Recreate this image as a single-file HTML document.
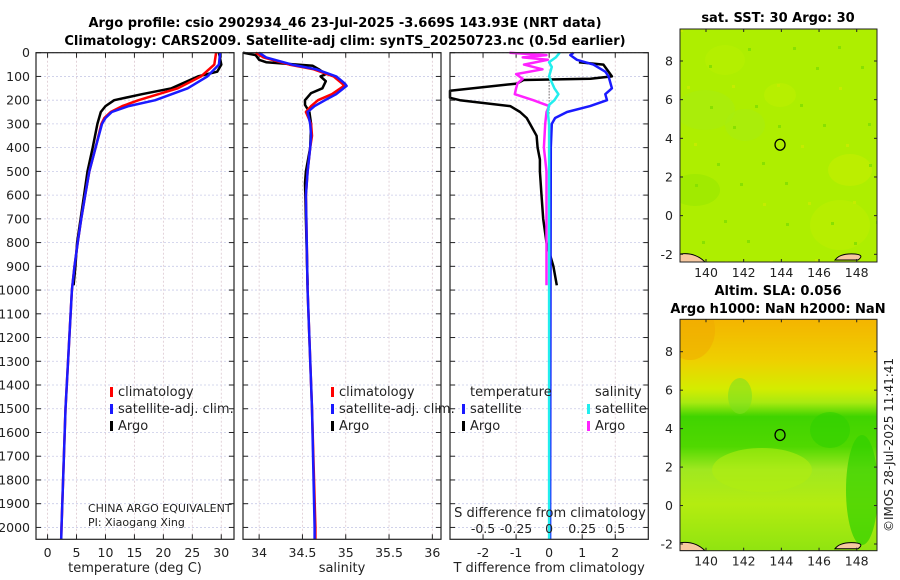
<!DOCTYPE html>
<html><head><meta charset="utf-8">
<style>
body{margin:0;background:#fff;}
svg{display:block;font-family:"DejaVu Sans","Liberation Sans",sans-serif;}
</style></head>
<body>
<svg id="fig" width="900" height="580" viewBox="0 0 900 580" xmlns="http://www.w3.org/2000/svg">
<text x="345" y="27" text-anchor="middle" font-size="13" font-weight="bold">Argo profile: csio 2902934_46 23-Jul-2025 -3.669S 143.93E (NRT data)</text>
<text x="345" y="45" text-anchor="middle" font-size="13" font-weight="bold">Climatology: CARS2009. Satellite-adj clim: synTS_20250723.nc (0.5d earlier)</text>
<g id="plots"></g>
<g id="maps"></g>
<text transform="translate(893,445) rotate(-90)" text-anchor="middle" font-size="12" fill="#222">©IMOS 28-Jul-2025 11:41:41</text>
</svg>
<script>
// ---- data ----
const tDepth = [0,50,100,150,200,225,250,275,300,400,500,600,700,800,900,1000,1500,2000,2050];
const tClim  = [29.1,28.8,26.5,22.5,15.7,12.9,10.9,9.8,9.3,8.3,7.2,6.5,5.8,5.2,4.65,4.2,3.1,2.4,2.35];
const tSat   = [29.8,29.6,27.6,24.2,18.6,14.0,11.1,10.0,9.4,8.3,7.2,6.5,5.8,5.2,4.65,4.2,3.1,2.4,2.35];
const argoTDepth = [0,50,80,100,150,175,200,225,250,300,400,500,600,700,800,900,980];
const argoT  = [29.6,30.0,29.3,26.0,21.4,16.3,11.5,10.0,9.2,8.6,7.8,6.9,6.3,5.7,5.1,4.8,4.5];
const sDepth = [0,20,50,70,100,130,140,175,200,225,250,300,350,400,500,600,1000,1500,2000,2050];
const sClim  = [33.96,34.05,34.35,34.63,34.86,34.96,34.98,34.84,34.68,34.6,34.54,34.6,34.61,34.59,34.56,34.54,34.56,34.61,34.65,34.65];
const sSat   = [34.0,34.08,34.38,34.66,34.89,34.99,35.01,34.89,34.76,34.64,34.56,34.59,34.6,34.59,34.56,34.54,34.56,34.61,34.64,34.64];
const argoSDepth = [0,10,30,40,55,70,90,100,120,150,170,200,220,250,300,400,500,550,700,980];
const argoS  = [33.8,33.96,34.0,34.08,34.62,34.69,34.77,34.71,34.77,34.73,34.6,34.53,34.53,34.58,34.6,34.59,34.54,34.53,34.54,34.56];
const dTDepth = [0,10,30,50,80,100,150,175,200,225,250,275,300,400,1000,2000,2050];
const dTSat   = [0.74,0.64,0.84,1.34,1.7,1.8,1.9,1.7,1.75,1.24,0.54,0.18,0.08,0.05,0.04,0.03,0.03];
const dTArgoDepth = [40,50,80,100,110,115,130,160,190,200,225,250,275,300,350,400,450,500,600,700,800,900,980];
const dTArgo = [0.9,1.64,1.8,1.9,1.25,-0.78,-0.98,-3.1,-3.1,-2.7,-1.18,-0.88,-0.68,-0.58,-0.38,-0.35,-0.28,-0.28,-0.23,-0.18,-0.08,0.13,0.23];
const dSDepth = [0,20,40,60,100,150,175,200,220,250,300,1000,2000,2050];
const dSSat   = [0.08,0.05,0.0,0.02,0.0,0.04,0.07,0.04,0.0,-0.01,0.0,0.0,0.0,0.0];
const dSArgoDepth = [0,10,20,30,50,70,90,110,130,150,175,200,225,250,300,400,500,980];
const dSArgo = [-0.3,-0.02,-0.2,-0.01,-0.19,-0.05,-0.25,-0.2,-0.24,-0.25,-0.26,-0.12,0.0,-0.02,-0.03,-0.04,-0.02,-0.02];
const depthTicks = [0,100,200,300,400,500,600,700,800,900,1000,1100,1200,1300,1400,1500,1600,1700,1800,1900,2000];
const tTicks = [0,5,10,15,20,25,30];
const sTicks = [34,34.5,35,35.5,36];
const sTickLabels = ["34","34.5","35","35.5","36"];
const dtTicks = [-2,-1,0,1,2];
const dsTicks = [-0.5,-0.25,0,0.25,0.5];
const dsTickLabels = ["-0.5","-0.25","0","0.25","0.5"];
const lonTicks = [140,142,144,146,148];
const latTicks = [-2,0,2,4,6,8];
const floatLon = 143.93, floatLat = 3.669;

const NS="http://www.w3.org/2000/svg";
function mk(tag,attrs,parent){const e=document.createElementNS(NS,tag);for(const k in attrs)e.setAttribute(k,attrs[k]);parent.appendChild(e);return e;}
const Y0=52.7, Y1=539.3;
const yD = d => Y0 + d/2050*(Y1-Y0);
const plots=document.getElementById('plots');

function panel(name,x0,x1,vmin,vmax,ticks,labels,xlabel,showDepth){
  const g=mk('g',{},plots);
  
  
  const sx=v=>x0+(v-vmin)/(vmax-vmin)*(x1-x0);
  depthTicks.forEach(d=>{
    const l=mk('line',{x1:x0,x2:x1,y1:yD(d),y2:yD(d),stroke:'#c9cbe8','stroke-width':0.8,'stroke-dasharray':'2,2'},g);
    
    
    mk('line',{x1:x0,x2:x0+5,y1:yD(d),y2:yD(d),stroke:'#222'},g);
    mk('line',{x1:x1-5,x2:x1,y1:yD(d),y2:yD(d),stroke:'#222'},g);
    if(showDepth){const t=mk('text',{x:x0-6,y:yD(d)+4.5,'text-anchor':'end','font-size':12.5,fill:'#222'},g);t.textContent=d;
      
      }
  });
  ticks.forEach((v,i)=>{
    const l=mk('line',{x1:sx(v),x2:sx(v),y1:Y0,y2:Y1,stroke:'#dcc8d0','stroke-width':0.8,'stroke-dasharray':'2,2'},g);
    
    
    mk('line',{x1:sx(v),x2:sx(v),y1:Y0,y2:Y0+5,stroke:'#222'},g);
    mk('line',{x1:sx(v),x2:sx(v),y1:Y1-5,y2:Y1,stroke:'#222'},g);
    const t=mk('text',{x:sx(v),y:557,'text-anchor':'middle','font-size':12.5,fill:'#222'},g);t.textContent=labels[i];
    
    
  });
  const xl=mk('text',{x:(x0+x1)/2,y:572,'text-anchor':'middle','font-size':13,fill:'#222'},g);xl.textContent=xlabel;
  
  
  return {g,sx,x0,x1};
}
function line(p,vals,depths,color,w,name,sxf){
  const f=sxf||p.sx;
  const pts=vals.map((v,i)=>Math.max(p.x0,Math.min(p.x1,f(v))).toFixed(1)+','+yD(depths[i]).toFixed(1)).join(' ');
  const e=mk('polyline',{points:pts,fill:'none',stroke:color,'stroke-width':w,'stroke-linejoin':'round'},p.g);
  
  
}
function frame(p){mk('rect',{x:p.x0,y:Y0,width:p.x1-p.x0,height:Y1-Y0,fill:'none',stroke:'#222','stroke-width':1.2},p.g);}
function legendItem(g,x,y,color,label,name){
  mk('rect',{x:x,y:y-9,width:3,height:10,fill:color},g);
  const t=mk('text',{x:x+8,y:y,'font-size':13,fill:'#222'},g);t.textContent=label;
  
  
}

// Panel 1 temperature
const p1=panel('temperature-panel',36,234,-2,32.2,tTicks,tTicks.map(String),'temperature (deg C)',true);
line(p1,argoT,argoTDepth,'#000',2.5,'argo-temperature-line');
line(p1,tClim,tDepth,'#f00',2.5,'climatology-temperature-line');
line(p1,tSat,tDepth,'#1a1aff',2.5,'satellite-temperature-line');
frame(p1);
legendItem(p1.g,110,396,'#f00','climatology','legend-climatology');
legendItem(p1.g,110,413,'#1a1aff','satellite-adj. clim.','legend-satellite');
legendItem(p1.g,110,430,'#000','Argo','legend-argo');
[['CHINA ARGO EQUIVALENT',512],['PI: Xiaogang Xing',526]].forEach(([s,y])=>{const t=mk('text',{x:88,y:y,'font-size':11,fill:'#222'},p1.g);t.textContent=s;
  
  });

// Panel 2 salinity
const p2=panel('salinity-panel',243,441,33.8137,36.1,sTicks,sTickLabels,'salinity',false);
line(p2,argoS,argoSDepth,'#000',2.5,'argo-salinity-line');
line(p2,sClim,sDepth,'#f00',2.5,'climatology-salinity-line');
line(p2,sSat,sDepth,'#1a1aff',2.5,'satellite-salinity-line');
frame(p2);
legendItem(p2.g,331,396,'#f00','climatology','legend-climatology');
legendItem(p2.g,331,413,'#1a1aff','satellite-adj. clim.','legend-satellite');
legendItem(p2.g,331,430,'#000','Argo','legend-argo');

// Panel 3 differences
const p3=panel('difference-panel',450,648.3,-3.0,3.0,dtTicks,dtTicks.map(String),'T difference from climatology',false);
const sxS=v=>p3.sx(v*4);
mk('line',{x1:p3.sx(0),x2:p3.sx(0),y1:yD(100),y2:yD(260),stroke:'#333','stroke-dasharray':'1,2'},p3.g);
line(p3,dTArgo,dTArgoDepth,'#000',2.5,'argo-temperature-difference-line');
line(p3,dSArgo,dSArgoDepth,'#ff22ff',2.5,'argo-salinity-difference-line',sxS);
line(p3,dTSat,dTDepth,'#1a1aff',2.5,'satellite-temperature-difference-line');
line(p3,dSSat,dSDepth,'#22eeee',2.5,'satellite-salinity-difference-line',sxS);
frame(p3);
dsTicks.forEach((v,i)=>{const t=mk('text',{x:sxS(v),y:533,'text-anchor':'middle','font-size':12.5,fill:'#222'},p3.g);t.textContent=dsTickLabels[i];
  
  });
{const t=mk('text',{x:550,y:517,'text-anchor':'middle','font-size':13,fill:'#222'},p3.g);t.textContent='S difference from climatology';
  
  }
{const t=mk('text',{x:470,y:396,'font-size':13,fill:'#222'},p3.g);t.textContent='temperature';
  
  }
{const t=mk('text',{x:595,y:396,'font-size':13,fill:'#222'},p3.g);t.textContent='salinity';
  
  }
legendItem(p3.g,462,413,'#1a1aff','satellite','legend-temp-satellite');
legendItem(p3.g,462,430,'#000','Argo','legend-temp-argo');
legendItem(p3.g,587,413,'#22eeee','satellite','legend-sal-satellite');
legendItem(p3.g,587,430,'#ff22ff','Argo','legend-sal-argo');

// ---- maps ----
const maps=document.getElementById('maps');
function map(name,top,bot,lat8,latm2,kind,titles){
  const g=mk('g',{},maps);
  
  
  const X0=680,X1=877;
  const sx=lon=>706+(lon-140)*18.84;
  const sy=lat=>lat8+(8-lat)*(latm2-lat8)/10;
  const id=name+'-clip';
  const cp=mk('clipPath',{id:id},g);mk('rect',{x:X0,y:top,width:X1-X0,height:bot-top},cp);
  const b=mk('g',{'clip-path':'url(#'+id+')'},g);
  if(kind==='sst'){
    mk('rect',{x:X0,y:top,width:X1-X0,height:bot-top,fill:'#aeee00'},b);
    [[695,190,25,16,'#98e800'],[705,110,30,20,'#a6ec10'],[745,125,20,16,'#a6ec10'],[850,170,22,16,'#c4ee00'],[780,95,16,12,'#bcf000'],[840,225,30,25,'#bcee00'],[725,60,20,15,'#b8f000']].forEach(c=>mk('ellipse',{cx:c[0],cy:c[1],rx:c[2],ry:c[3],fill:c[4],opacity:0.6},b));
    for(let i=0;i<40;i++){const px=X0+((i*53)%197),py=top+((i*97)%(bot-top));mk('rect',{x:px,y:py,width:3,height:3,fill:i%3?'#88e000':'#c4ec00'},b);}
  } else {
    const gr=mk('linearGradient',{id:'slaGrad',x1:0,y1:0,x2:0,y2:1},g);
    [[0,'#f4b400'],[0.18,'#eed000'],[0.3,'#d4ec00'],[0.36,'#a8ea10'],[0.42,'#40d400'],[0.55,'#50d800'],[0.65,'#a0e820'],[0.8,'#b4ec10'],[1,'#90e410']].forEach(s=>mk('stop',{offset:s[0],'stop-color':s[1]},gr));
    mk('rect',{x:X0,y:top,width:X1-X0,height:bot-top,fill:'url(#slaGrad)'},b);
    mk('ellipse',{cx:690,cy:330,rx:25,ry:30,fill:'#f0a800',opacity:0.5},b);
    mk('ellipse',{cx:762,cy:470,rx:50,ry:22,fill:'#b0ec10',opacity:0.6},b);
    mk('ellipse',{cx:862,cy:490,rx:16,ry:55,fill:'#30d000',opacity:0.7},b);
    mk('ellipse',{cx:830,cy:430,rx:20,ry:18,fill:'#30d000',opacity:0.6},b);
    mk('ellipse',{cx:740,cy:396,rx:12,ry:18,fill:'#80e020',opacity:0.6},b);
  }
  mk('path',{d:`M${X0} ${bot-8} Q${X0+15} ${bot-10} ${X0+25} ${bot} L${X0} ${bot} Z`,fill:'#f7c8a0',stroke:'#000','stroke-width':1},b);
  mk('path',{d:`M${X0+155} ${bot-2} Q${X0+160} ${bot-9} ${X0+175} ${bot-8} Q${X0+185} ${bot-7} ${X0+178} ${bot-2} Z`,fill:'#f7c8a0',stroke:'#000','stroke-width':1},b);
  mk('rect',{x:X0,y:top,width:X1-X0,height:bot-top,fill:'none',stroke:'#222','stroke-width':1},g);
  const c=mk('ellipse',{cx:sx(floatLon),cy:sy(floatLat),rx:5,ry:5.5,fill:'none',stroke:'#000','stroke-width':1.3},g);
  
  
  lonTicks.forEach(v=>{mk('line',{x1:sx(v),x2:sx(v),y1:bot,y2:bot-3,stroke:'#222'},g);mk('line',{x1:sx(v),x2:sx(v),y1:top,y2:top+3,stroke:'#222'},g);
    const t=mk('text',{x:sx(v),y:bot+15,'text-anchor':'middle','font-size':12.5,fill:'#222'},g);t.textContent=v;
    
    });
  latTicks.forEach(v=>{mk('line',{x1:X0,x2:X0+3,y1:sy(v),y2:sy(v),stroke:'#222'},g);mk('line',{x1:X1-3,x2:X1,y1:sy(v),y2:sy(v),stroke:'#222'},g);
    const t=mk('text',{x:673,y:sy(v)+4.5,'text-anchor':'end','font-size':12.5,fill:'#222'},g);t.textContent=v;
    
    });
  titles.forEach(([s,y])=>{const t=mk('text',{x:778,y:y,'text-anchor':'middle','font-size':13,'font-weight':'bold'},g);t.textContent=s;
    
    });
}
map('sst-map',29,262,61,254.3,'sst',[['sat. SST: 30 Argo: 30',22]]);
map('sla-map',319.3,550.7,351.7,544,'sla',[['Altim. SLA: 0.056',295],['Argo h1000: NaN h2000: NaN',313]]);
</script>
</body></html>
